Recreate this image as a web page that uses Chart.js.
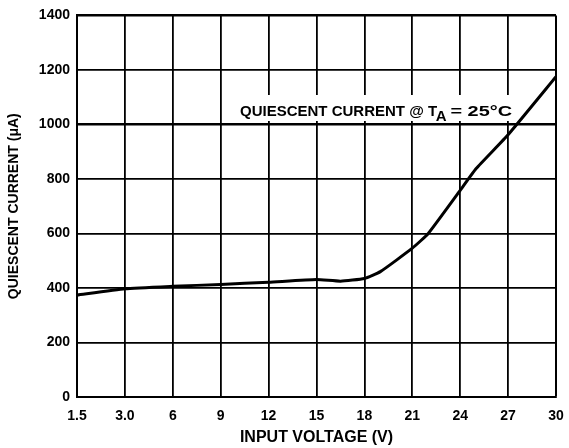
<!DOCTYPE html>
<html>
<head>
<meta charset="utf-8">
<script src="https://cdn.jsdelivr.net/npm/chart.js@4/dist/chart.umd.min.js"></script>
<style>
  html, body { margin: 0; padding: 0; background: #fff; }
  #wrap { width: 569px; height: 448px; }
</style>
</head>
<body>
<div id="wrap"><canvas id="chart" width="569" height="448"></canvas></div>
<script>
// Quiescent current vs input voltage
// x axis ticks are evenly spaced even though 1.5 -> 3.0 is a half step

const xTickLabels = ["1.5", "3.0", "6", "9", "12", "15", "18", "21", "24", "27", "30"];
const xTickValues = [1.5, 3, 6, 9, 12, 15, 18, 21, 24, 27, 30];
const yTickValues = [0, 200, 400, 600, 800, 1000, 1200, 1400];

// (V, uA)
const voltage = [1.5, 3, 6, 9, 12, 15, 16.5, 18, 19, 21, 22, 24, 25, 27, 30];
const current = [374, 397, 406, 413, 421, 431, 425, 435, 460, 546, 600, 758, 838, 962, 1175];

const noteText = "QUIESCENT CURRENT @ T";
const noteSub = "A";
const noteTail = "= 25\u00B0C";

const FONT = "'Liberation Sans', Arial, Helvetica, sans-serif";

// volts -> position on the evenly spaced tick axis
function axisPos(v){
  for(let i = 0; i < xTickValues.length - 1; i++){
    const a = xTickValues[i], b = xTickValues[i + 1];
    if(v <= b) return i + (v - a) / (b - a);
  }
  return xTickValues.length - 1;
}

const points = voltage.map((v, i) => ({ x: axisPos(v), y: current[i] }));

const notePlugin = {
  id: "note",
  beforeDatasetsDraw(chart){
    const { ctx } = chart;
    ctx.save();
    ctx.fillStyle = "#fff";
    ctx.fillRect(226, 95, 292, 26);
    ctx.fillStyle = "#000";
    ctx.textBaseline = "alphabetic";
    ctx.font = `bold 15px ${FONT}`;
    let x = 240;
    const base = 115.5;
    ctx.fillText(noteText, x, base);
    x += ctx.measureText(noteText).width - 1.5;
    ctx.fillText(noteSub, x, base + 5.5);
    x += ctx.measureText(noteSub).width + 4;
    // the digits in the original are drawn wider, stretch the tail to fit
    const w = ctx.measureText(noteTail).width;
    const sx = (512 - x) / w;
    ctx.translate(x, base);
    ctx.scale(sx, 1);
    ctx.fillText(noteTail, 0, 0);
    ctx.restore();
  }
};

const ctx = document.getElementById("chart").getContext("2d");

new Chart(ctx, {
  type: "line",
  data: {
    datasets: [{
      data: points,
      borderColor: "#000",
      borderWidth: 3,
      pointRadius: 0,
      fill: false,
      tension: 0.15
    }]
  },
  options: {
    responsive: false,
    animation: false,
    devicePixelRatio: 1,
    layout: { padding: { left: 0, right: 0, top: 15, bottom: 0 } },
    plugins: {
      legend: { display: false },
      tooltip: { enabled: false }
    },
    scales: {
      x: {
        type: "linear",
        min: 0,
        max: xTickLabels.length - 1,
        afterBuildTicks: (s) => { s.ticks = xTickLabels.map((_, i) => ({ value: i })); },
        afterFit: (s) => { s.height = 51; s.paddingRight = 13; },
        ticks: {
          color: "#000",
          padding: 11,
          autoSkip: false,
          maxRotation: 0,
          font: { family: FONT, size: 14, weight: "bold" },
          callback: (v) => xTickLabels[v]
        },
        grid: {
          color: "#000",
          lineWidth: (c) => (c.index === xTickLabels.length - 1 ? 2 : 1.8),
          drawTicks: false
        },
        border: { display: true, color: "#000", width: 2 },
        title: {
          display: true,
          text: "INPUT VOLTAGE (V)",
          color: "#000",
          padding: { top: 0, bottom: 1 },
          font: { family: FONT, size: 16, weight: "bold" }
        }
      },
      y: {
        min: 0,
        max: 1400,
        afterBuildTicks: (s) => { s.ticks = yTickValues.map(v => ({ value: v })); },
        afterFit: (s) => { s.width = 77; },
        ticks: {
          color: "#000",
          padding: 7,
          font: { family: FONT, size: 14, weight: "bold" },
          callback: (v) => String(v)
        },
        grid: {
          color: "#000",
          lineWidth: (c) => (c.tick && (c.tick.value === 1000 || c.tick.value === 1400) ? 2.5 : 1.8),
          drawTicks: false
        },
        border: { display: true, color: "#000", width: 2 },
        title: {
          display: true,
          text: "QUIESCENT CURRENT (\u03BCA)",
          color: "#000",
          padding: { top: 6, bottom: 0 },
          font: { family: FONT, size: 14, weight: "bold" }
        }
      }
    }
  },
  plugins: [notePlugin]
});
</script>
</body>
</html>
